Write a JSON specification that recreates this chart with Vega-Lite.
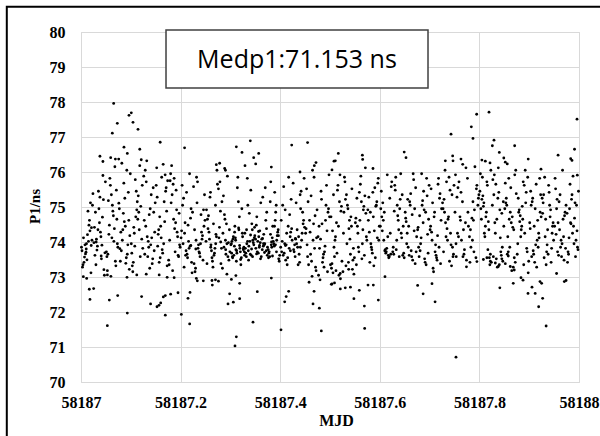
{
"$schema":"https://vega.github.io/schema/vega-lite/v6.json",
"width":498,"height":350,
"autosize":"none",
"padding":{"left":81,"top":32,"right":21,"bottom":54},
"background":"white",
"config":{"view":{"stroke":"#d9d9d9","strokeWidth":1}},
"data":{"values":[
{"mjd":58187.001,"p":73.85},{"mjd":58187.013,"p":74.21},{"mjd":58187.006,"p":73.42},{"mjd":58187.019,"p":75.12},{"mjd":58187.009,"p":73.66},{"mjd":58187.022,"p":74.05},{"mjd":58187.003,"p":73.28},{"mjd":58187.016,"p":74.48},{"mjd":58187.011,"p":73.95},{"mjd":58187.024,"p":75.38},{"mjd":58187.007,"p":73.57},{"mjd":58187.018,"p":74.32},{"mjd":58187.002,"p":73.75},{"mjd":58187.014,"p":74.88},{"mjd":58187.020,"p":73.12},{"mjd":58187.005,"p":74.12},{"mjd":58187.012,"p":73.49},{"mjd":58187.023,"p":75.05},{"mjd":58187.008,"p":73.92},{"mjd":58187.017,"p":74.62},{"mjd":58187.004,"p":73.35},{"mjd":58187.015,"p":74.02},{"mjd":58187.010,"p":73.71},{"mjd":58187.021,"p":74.41},
{"mjd":58187.037,"p":74.55},{"mjd":58187.028,"p":73.62},{"mjd":58187.045,"p":75.21},{"mjd":58187.033,"p":73.88},{"mjd":58187.040,"p":74.15},{"mjd":58187.049,"p":75.72},{"mjd":58187.030,"p":73.35},{"mjd":58187.043,"p":74.71},{"mjd":58187.026,"p":73.98},{"mjd":58187.035,"p":75.45},{"mjd":58187.047,"p":73.05},{"mjd":58187.039,"p":74.28},{"mjd":58187.032,"p":73.77},{"mjd":58187.044,"p":75.9},{"mjd":58187.027,"p":74.42},{"mjd":58187.041,"p":73.52},{"mjd":58187.036,"p":74.95},{"mjd":58187.048,"p":73.69},{"mjd":58187.031,"p":74.08},{"mjd":58187.038,"p":75.28},{"mjd":58187.046,"p":73.21},{"mjd":58187.029,"p":74.85},{"mjd":58187.042,"p":73.91},{"mjd":58187.034,"p":74.35},
{"mjd":58187.051,"p":73.72},{"mjd":58187.063,"p":75.05},{"mjd":58187.056,"p":74.22},{"mjd":58187.069,"p":73.45},{"mjd":58187.059,"p":75.62},{"mjd":58187.072,"p":74.65},{"mjd":58187.053,"p":73.18},{"mjd":58187.066,"p":74.02},{"mjd":58187.061,"p":75.35},{"mjd":58187.074,"p":73.85},{"mjd":58187.057,"p":74.48},{"mjd":58187.068,"p":76.15},{"mjd":58187.052,"p":73.58},{"mjd":58187.064,"p":74.88},{"mjd":58187.070,"p":73.32},{"mjd":58187.055,"p":75.18},{"mjd":58187.062,"p":74.12},{"mjd":58187.073,"p":73.95},{"mjd":58187.058,"p":75.82},{"mjd":58187.067,"p":74.38},{"mjd":58187.054,"p":73.65},{"mjd":58187.065,"p":74.75},{"mjd":58187.060,"p":73.02},{"mjd":58187.071,"p":75.48},
{"mjd":58187.087,"p":74.58},{"mjd":58187.078,"p":73.81},{"mjd":58187.095,"p":75.42},{"mjd":58187.083,"p":74.05},{"mjd":58187.090,"p":73.39},{"mjd":58187.099,"p":75.95},{"mjd":58187.080,"p":74.28},{"mjd":58187.093,"p":73.65},{"mjd":58187.076,"p":75.11},{"mjd":58187.085,"p":74.82},{"mjd":58187.097,"p":73.22},{"mjd":58187.089,"p":74.45},{"mjd":58187.082,"p":76.25},{"mjd":58187.094,"p":73.92},{"mjd":58187.077,"p":74.95},{"mjd":58187.091,"p":73.55},{"mjd":58187.086,"p":75.68},{"mjd":58187.098,"p":74.18},{"mjd":58187.081,"p":73.75},{"mjd":58187.088,"p":75.25},{"mjd":58187.096,"p":74.62},{"mjd":58187.079,"p":73.45},{"mjd":58187.092,"p":76.05},{"mjd":58187.084,"p":74.35},
{"mjd":58187.101,"p":73.95},{"mjd":58187.113,"p":75.15},{"mjd":58187.106,"p":74.42},{"mjd":58187.119,"p":73.58},{"mjd":58187.109,"p":75.78},{"mjd":58187.122,"p":74.08},{"mjd":58187.103,"p":73.32},{"mjd":58187.116,"p":74.85},{"mjd":58187.111,"p":75.45},{"mjd":58187.124,"p":73.82},{"mjd":58187.107,"p":74.25},{"mjd":58187.118,"p":76.18},{"mjd":58187.102,"p":73.68},{"mjd":58187.114,"p":74.65},{"mjd":58187.120,"p":75.02},{"mjd":58187.105,"p":73.42},{"mjd":58187.112,"p":74.92},{"mjd":58187.123,"p":75.62},{"mjd":58187.108,"p":73.88},{"mjd":58187.117,"p":74.35},{"mjd":58187.104,"p":73.15},{"mjd":58187.115,"p":75.32},{"mjd":58187.110,"p":74.72},{"mjd":58187.121,"p":76.35},
{"mjd":58187.137,"p":74.78},{"mjd":58187.128,"p":73.65},{"mjd":58187.145,"p":75.55},{"mjd":58187.133,"p":74.15},{"mjd":58187.140,"p":73.92},{"mjd":58187.149,"p":75.12},{"mjd":58187.130,"p":74.45},{"mjd":58187.143,"p":73.38},{"mjd":58187.126,"p":75.88},{"mjd":58187.135,"p":74.02},{"mjd":58187.147,"p":73.75},{"mjd":58187.139,"p":74.95},{"mjd":58187.132,"p":76.32},{"mjd":58187.144,"p":73.52},{"mjd":58187.127,"p":74.62},{"mjd":58187.141,"p":75.35},{"mjd":58187.136,"p":73.85},{"mjd":58187.148,"p":74.28},{"mjd":58187.131,"p":75.72},{"mjd":58187.138,"p":73.25},{"mjd":58187.146,"p":74.85},{"mjd":58187.129,"p":76.05},{"mjd":58187.142,"p":74.12},{"mjd":58187.134,"p":73.58},
{"mjd":58187.151,"p":75.62},{"mjd":58187.163,"p":73.78},{"mjd":58187.156,"p":74.35},{"mjd":58187.169,"p":75.92},{"mjd":58187.159,"p":73.55},{"mjd":58187.172,"p":74.88},{"mjd":58187.153,"p":75.28},{"mjd":58187.166,"p":73.95},{"mjd":58187.161,"p":74.12},{"mjd":58187.174,"p":75.75},{"mjd":58187.157,"p":73.42},{"mjd":58187.168,"p":74.58},{"mjd":58187.152,"p":76.12},{"mjd":58187.164,"p":73.68},{"mjd":58187.170,"p":75.45},{"mjd":58187.155,"p":74.22},{"mjd":58187.162,"p":75.85},{"mjd":58187.173,"p":73.32},{"mjd":58187.158,"p":74.72},{"mjd":58187.167,"p":75.15},{"mjd":58187.154,"p":73.88},{"mjd":58187.165,"p":76.22},{"mjd":58187.160,"p":74.45},{"mjd":58187.171,"p":75.55},
{"mjd":58187.187,"p":75.82},{"mjd":58187.178,"p":74.05},{"mjd":58187.195,"p":73.62},{"mjd":58187.183,"p":75.35},{"mjd":58187.190,"p":74.55},{"mjd":58187.199,"p":73.85},{"mjd":58187.180,"p":75.95},{"mjd":58187.193,"p":74.28},{"mjd":58187.176,"p":73.48},{"mjd":58187.185,"p":75.65},{"mjd":58187.197,"p":74.82},{"mjd":58187.189,"p":73.72},{"mjd":58187.182,"p":76.18},{"mjd":58187.194,"p":74.15},{"mjd":58187.177,"p":73.35},{"mjd":58187.191,"p":75.48},{"mjd":58187.186,"p":74.65},{"mjd":58187.198,"p":73.92},{"mjd":58187.181,"p":75.12},{"mjd":58187.188,"p":74.38},{"mjd":58187.196,"p":73.58},{"mjd":58187.179,"p":75.75},{"mjd":58187.192,"p":74.92},{"mjd":58187.184,"p":73.18},
{"mjd":58187.201,"p":74.12},{"mjd":58187.213,"p":73.65},{"mjd":58187.206,"p":75.25},{"mjd":58187.219,"p":73.88},{"mjd":58187.209,"p":74.55},{"mjd":58187.222,"p":73.42},{"mjd":58187.203,"p":75.62},{"mjd":58187.216,"p":74.02},{"mjd":58187.211,"p":73.75},{"mjd":58187.224,"p":74.85},{"mjd":58187.207,"p":73.28},{"mjd":58187.218,"p":75.95},{"mjd":58187.202,"p":74.32},{"mjd":58187.214,"p":73.55},{"mjd":58187.220,"p":74.68},{"mjd":58187.205,"p":73.95},{"mjd":58187.212,"p":75.42},{"mjd":58187.223,"p":73.12},{"mjd":58187.208,"p":74.25},{"mjd":58187.217,"p":73.82},{"mjd":58187.204,"p":75.05},{"mjd":58187.215,"p":74.48},{"mjd":58187.210,"p":73.62},{"mjd":58187.221,"p":74.95},
{"mjd":58187.237,"p":73.72},{"mjd":58187.228,"p":74.35},{"mjd":58187.245,"p":73.48},{"mjd":58187.233,"p":75.12},{"mjd":58187.240,"p":73.95},{"mjd":58187.249,"p":74.62},{"mjd":58187.230,"p":73.25},{"mjd":58187.243,"p":74.08},{"mjd":58187.226,"p":75.58},{"mjd":58187.235,"p":73.82},{"mjd":58187.247,"p":74.45},{"mjd":58187.239,"p":73.58},{"mjd":58187.232,"p":75.85},{"mjd":58187.244,"p":74.18},{"mjd":58187.227,"p":73.38},{"mjd":58187.241,"p":74.78},{"mjd":58187.236,"p":73.92},{"mjd":58187.248,"p":75.35},{"mjd":58187.231,"p":74.05},{"mjd":58187.238,"p":73.68},{"mjd":58187.246,"p":74.92},{"mjd":58187.229,"p":73.15},{"mjd":58187.242,"p":74.28},{"mjd":58187.234,"p":75.72},
{"mjd":58187.251,"p":74.02},{"mjd":58187.263,"p":73.55},{"mjd":58187.256,"p":74.75},{"mjd":58187.269,"p":73.82},{"mjd":58187.259,"p":75.28},{"mjd":58187.272,"p":74.15},{"mjd":58187.253,"p":73.38},{"mjd":58187.266,"p":74.52},{"mjd":58187.261,"p":73.92},{"mjd":58187.274,"p":75.65},{"mjd":58187.257,"p":74.28},{"mjd":58187.268,"p":73.68},{"mjd":58187.252,"p":74.92},{"mjd":58187.264,"p":73.45},{"mjd":58187.270,"p":75.05},{"mjd":58187.255,"p":74.38},{"mjd":58187.262,"p":73.75},{"mjd":58187.273,"p":76.05},{"mjd":58187.258,"p":74.08},{"mjd":58187.267,"p":73.62},{"mjd":58187.254,"p":74.65},{"mjd":58187.265,"p":73.28},{"mjd":58187.260,"p":75.42},{"mjd":58187.271,"p":74.22},
{"mjd":58187.287,"p":73.85},{"mjd":58187.278,"p":74.42},{"mjd":58187.295,"p":73.58},{"mjd":58187.283,"p":75.15},{"mjd":58187.290,"p":74.05},{"mjd":58187.299,"p":73.72},{"mjd":58187.280,"p":74.88},{"mjd":58187.293,"p":73.95},{"mjd":58187.276,"p":75.52},{"mjd":58187.285,"p":74.25},{"mjd":58187.297,"p":73.48},{"mjd":58187.289,"p":74.65},{"mjd":58187.282,"p":73.82},{"mjd":58187.294,"p":75.88},{"mjd":58187.277,"p":74.12},{"mjd":58187.291,"p":73.65},{"mjd":58187.286,"p":75.32},{"mjd":58187.298,"p":74.35},{"mjd":58187.281,"p":73.38},{"mjd":58187.288,"p":74.78},{"mjd":58187.296,"p":73.98},{"mjd":58187.279,"p":75.72},{"mjd":58187.292,"p":74.52},{"mjd":58187.284,"p":73.25},
{"mjd":58187.301,"p":73.92},{"mjd":58187.313,"p":73.68},{"mjd":58187.306,"p":74.15},{"mjd":58187.319,"p":73.82},{"mjd":58187.309,"p":74.45},{"mjd":58187.322,"p":73.55},{"mjd":58187.303,"p":74.02},{"mjd":58187.316,"p":75.15},{"mjd":58187.311,"p":73.78},{"mjd":58187.324,"p":74.25},{"mjd":58187.307,"p":73.62},{"mjd":58187.318,"p":74.72},{"mjd":58187.302,"p":73.95},{"mjd":58187.314,"p":75.55},{"mjd":58187.320,"p":73.72},{"mjd":58187.305,"p":74.08},{"mjd":58187.312,"p":73.45},{"mjd":58187.323,"p":74.95},{"mjd":58187.308,"p":73.88},{"mjd":58187.317,"p":74.35},{"mjd":58187.304,"p":73.58},{"mjd":58187.315,"p":75.85},{"mjd":58187.310,"p":74.12},{"mjd":58187.321,"p":73.35},
{"mjd":58187.337,"p":73.88},{"mjd":58187.328,"p":73.72},{"mjd":58187.345,"p":74.05},{"mjd":58187.333,"p":73.95},{"mjd":58187.340,"p":73.65},{"mjd":58187.349,"p":74.18},{"mjd":58187.330,"p":73.82},{"mjd":58187.343,"p":74.52},{"mjd":58187.326,"p":73.78},{"mjd":58187.335,"p":75.05},{"mjd":58187.347,"p":73.92},{"mjd":58187.339,"p":74.02},{"mjd":58187.332,"p":73.58},{"mjd":58187.344,"p":74.35},{"mjd":58187.327,"p":73.85},{"mjd":58187.341,"p":75.48},{"mjd":58187.336,"p":73.75},{"mjd":58187.348,"p":74.12},{"mjd":58187.331,"p":73.68},{"mjd":58187.338,"p":74.82},{"mjd":58187.346,"p":73.98},{"mjd":58187.329,"p":74.25},{"mjd":58187.342,"p":73.62},{"mjd":58187.334,"p":75.82},
{"mjd":58187.351,"p":73.82},{"mjd":58187.363,"p":74.08},{"mjd":58187.356,"p":73.68},{"mjd":58187.369,"p":73.95},{"mjd":58187.359,"p":74.32},{"mjd":58187.372,"p":73.75},{"mjd":58187.353,"p":74.72},{"mjd":58187.366,"p":73.88},{"mjd":58187.361,"p":75.12},{"mjd":58187.374,"p":73.62},{"mjd":58187.357,"p":74.15},{"mjd":58187.368,"p":73.92},{"mjd":58187.352,"p":74.48},{"mjd":58187.364,"p":73.78},{"mjd":58187.370,"p":75.55},{"mjd":58187.355,"p":74.02},{"mjd":58187.362,"p":73.58},{"mjd":58187.373,"p":74.85},{"mjd":58187.358,"p":73.85},{"mjd":58187.367,"p":74.22},{"mjd":58187.354,"p":73.72},{"mjd":58187.365,"p":75.28},{"mjd":58187.360,"p":73.98},{"mjd":58187.371,"p":74.62},
{"mjd":58187.387,"p":73.95},{"mjd":58187.378,"p":73.72},{"mjd":58187.395,"p":74.28},{"mjd":58187.383,"p":73.85},{"mjd":58187.390,"p":74.62},{"mjd":58187.399,"p":73.62},{"mjd":58187.380,"p":75.15},{"mjd":58187.393,"p":74.05},{"mjd":58187.376,"p":73.78},{"mjd":58187.385,"p":74.45},{"mjd":58187.397,"p":73.52},{"mjd":58187.389,"p":75.42},{"mjd":58187.382,"p":73.92},{"mjd":58187.394,"p":74.18},{"mjd":58187.377,"p":73.68},{"mjd":58187.391,"p":74.85},{"mjd":58187.386,"p":74.02},{"mjd":58187.398,"p":73.45},{"mjd":58187.381,"p":75.72},{"mjd":58187.388,"p":73.88},{"mjd":58187.396,"p":74.35},{"mjd":58187.379,"p":73.58},{"mjd":58187.392,"p":75.05},{"mjd":58187.384,"p":74.12},
{"mjd":58187.401,"p":73.85},{"mjd":58187.413,"p":74.25},{"mjd":58187.406,"p":73.62},{"mjd":58187.419,"p":74.78},{"mjd":58187.409,"p":73.95},{"mjd":58187.422,"p":75.22},{"mjd":58187.403,"p":73.72},{"mjd":58187.416,"p":74.45},{"mjd":58187.411,"p":73.48},{"mjd":58187.424,"p":74.05},{"mjd":58187.407,"p":75.58},{"mjd":58187.418,"p":73.82},{"mjd":58187.402,"p":74.62},{"mjd":58187.414,"p":73.35},{"mjd":58187.420,"p":74.15},{"mjd":58187.405,"p":75.05},{"mjd":58187.412,"p":73.92},{"mjd":58187.423,"p":74.38},{"mjd":58187.408,"p":73.68},{"mjd":58187.417,"p":75.85},{"mjd":58187.404,"p":74.02},{"mjd":58187.415,"p":73.55},{"mjd":58187.410,"p":74.92},{"mjd":58187.421,"p":74.28},
{"mjd":58187.437,"p":74.15},{"mjd":58187.428,"p":73.72},{"mjd":58187.445,"p":74.85},{"mjd":58187.433,"p":73.95},{"mjd":58187.440,"p":75.35},{"mjd":58187.449,"p":74.42},{"mjd":58187.430,"p":73.58},{"mjd":58187.443,"p":74.05},{"mjd":58187.426,"p":75.68},{"mjd":58187.435,"p":73.85},{"mjd":58187.447,"p":74.62},{"mjd":58187.439,"p":73.42},{"mjd":58187.432,"p":75.12},{"mjd":58187.444,"p":74.25},{"mjd":58187.427,"p":73.78},{"mjd":58187.441,"p":74.95},{"mjd":58187.436,"p":73.35},{"mjd":58187.448,"p":75.82},{"mjd":58187.431,"p":74.08},{"mjd":58187.438,"p":73.65},{"mjd":58187.446,"p":74.52},{"mjd":58187.429,"p":73.92},{"mjd":58187.442,"p":75.45},{"mjd":58187.434,"p":74.35},
{"mjd":58187.451,"p":74.25},{"mjd":58187.463,"p":73.45},{"mjd":58187.456,"p":75.15},{"mjd":58187.469,"p":73.82},{"mjd":58187.459,"p":74.62},{"mjd":58187.472,"p":73.18},{"mjd":58187.453,"p":75.52},{"mjd":58187.466,"p":74.05},{"mjd":58187.461,"p":73.65},{"mjd":58187.474,"p":74.92},{"mjd":58187.457,"p":73.35},{"mjd":58187.468,"p":75.85},{"mjd":58187.452,"p":74.38},{"mjd":58187.464,"p":73.02},{"mjd":58187.470,"p":74.75},{"mjd":58187.455,"p":73.58},{"mjd":58187.462,"p":75.32},{"mjd":58187.473,"p":74.12},{"mjd":58187.458,"p":72.85},{"mjd":58187.467,"p":74.52},{"mjd":58187.454,"p":73.92},{"mjd":58187.465,"p":76.05},{"mjd":58187.460,"p":74.28},{"mjd":58187.471,"p":73.28},
{"mjd":58187.487,"p":73.65},{"mjd":58187.478,"p":74.45},{"mjd":58187.495,"p":73.15},{"mjd":58187.483,"p":75.22},{"mjd":58187.490,"p":73.88},{"mjd":58187.499,"p":74.72},{"mjd":58187.480,"p":72.92},{"mjd":58187.493,"p":75.62},{"mjd":58187.476,"p":74.15},{"mjd":58187.485,"p":73.42},{"mjd":58187.497,"p":74.95},{"mjd":58187.489,"p":73.72},{"mjd":58187.482,"p":75.45},{"mjd":58187.494,"p":74.32},{"mjd":58187.477,"p":73.05},{"mjd":58187.491,"p":74.62},{"mjd":58187.486,"p":73.55},{"mjd":58187.498,"p":75.92},{"mjd":58187.481,"p":74.08},{"mjd":58187.488,"p":73.28},{"mjd":58187.496,"p":74.85},{"mjd":58187.479,"p":73.82},{"mjd":58187.492,"p":75.05},{"mjd":58187.484,"p":74.52},
{"mjd":58187.501,"p":73.35},{"mjd":58187.513,"p":74.55},{"mjd":58187.506,"p":73.12},{"mjd":58187.519,"p":75.15},{"mjd":58187.509,"p":73.58},{"mjd":58187.522,"p":74.88},{"mjd":58187.503,"p":73.25},{"mjd":58187.516,"p":75.62},{"mjd":58187.511,"p":74.15},{"mjd":58187.524,"p":73.45},{"mjd":58187.507,"p":75.35},{"mjd":58187.518,"p":73.05},{"mjd":58187.502,"p":74.72},{"mjd":58187.514,"p":73.68},{"mjd":58187.520,"p":75.92},{"mjd":58187.505,"p":74.32},{"mjd":58187.512,"p":73.18},{"mjd":58187.523,"p":75.02},{"mjd":58187.508,"p":73.85},{"mjd":58187.517,"p":74.45},{"mjd":58187.504,"p":73.38},{"mjd":58187.515,"p":75.48},{"mjd":58187.510,"p":74.05},{"mjd":58187.521,"p":72.95},
{"mjd":58187.537,"p":73.42},{"mjd":58187.528,"p":74.85},{"mjd":58187.545,"p":73.22},{"mjd":58187.533,"p":75.35},{"mjd":58187.540,"p":74.08},{"mjd":58187.549,"p":73.55},{"mjd":58187.530,"p":75.72},{"mjd":58187.543,"p":74.45},{"mjd":58187.526,"p":73.15},{"mjd":58187.535,"p":75.05},{"mjd":58187.547,"p":73.82},{"mjd":58187.539,"p":74.62},{"mjd":58187.532,"p":73.32},{"mjd":58187.544,"p":75.52},{"mjd":58187.527,"p":74.25},{"mjd":58187.541,"p":73.65},{"mjd":58187.536,"p":74.95},{"mjd":58187.548,"p":73.08},{"mjd":58187.531,"p":75.22},{"mjd":58187.538,"p":74.38},{"mjd":58187.546,"p":73.48},{"mjd":58187.529,"p":75.85},{"mjd":58187.542,"p":74.72},{"mjd":58187.534,"p":73.95},
{"mjd":58187.551,"p":74.55},{"mjd":58187.563,"p":75.15},{"mjd":58187.556,"p":74.25},{"mjd":58187.569,"p":73.62},{"mjd":58187.559,"p":75.42},{"mjd":58187.572,"p":74.82},{"mjd":58187.553,"p":73.35},{"mjd":58187.566,"p":74.35},{"mjd":58187.561,"p":75.65},{"mjd":58187.574,"p":74.05},{"mjd":58187.557,"p":73.85},{"mjd":58187.568,"p":75.02},{"mjd":58187.552,"p":74.68},{"mjd":58187.564,"p":73.52},{"mjd":58187.570,"p":75.32},{"mjd":58187.555,"p":74.45},{"mjd":58187.562,"p":75.88},{"mjd":58187.573,"p":74.15},{"mjd":58187.558,"p":73.72},{"mjd":58187.567,"p":74.92},{"mjd":58187.554,"p":75.25},{"mjd":58187.565,"p":73.95},{"mjd":58187.560,"p":74.62},{"mjd":58187.571,"p":76.12},
{"mjd":58187.587,"p":74.72},{"mjd":58187.578,"p":75.28},{"mjd":58187.595,"p":74.12},{"mjd":58187.583,"p":73.85},{"mjd":58187.590,"p":75.55},{"mjd":58187.599,"p":74.45},{"mjd":58187.580,"p":73.42},{"mjd":58187.593,"p":75.05},{"mjd":58187.576,"p":74.92},{"mjd":58187.585,"p":73.68},{"mjd":58187.597,"p":75.82},{"mjd":58187.589,"p":74.32},{"mjd":58187.582,"p":73.95},{"mjd":58187.594,"p":75.15},{"mjd":58187.577,"p":74.62},{"mjd":58187.591,"p":73.55},{"mjd":58187.586,"p":75.42},{"mjd":58187.598,"p":74.05},{"mjd":58187.581,"p":74.85},{"mjd":58187.588,"p":73.32},{"mjd":58187.596,"p":75.68},{"mjd":58187.579,"p":74.28},{"mjd":58187.592,"p":75.02},{"mjd":58187.584,"p":73.78},
{"mjd":58187.601,"p":74.45},{"mjd":58187.613,"p":73.72},{"mjd":58187.606,"p":75.12},{"mjd":58187.619,"p":73.58},{"mjd":58187.609,"p":74.85},{"mjd":58187.622,"p":73.65},{"mjd":58187.603,"p":75.45},{"mjd":58187.616,"p":74.15},{"mjd":58187.611,"p":73.78},{"mjd":58187.624,"p":75.72},{"mjd":58187.607,"p":74.62},{"mjd":58187.618,"p":73.55},{"mjd":58187.602,"p":74.95},{"mjd":58187.614,"p":73.82},{"mjd":58187.620,"p":75.25},{"mjd":58187.605,"p":74.32},{"mjd":58187.612,"p":73.68},{"mjd":58187.623,"p":75.58},{"mjd":58187.608,"p":74.05},{"mjd":58187.617,"p":73.62},{"mjd":58187.604,"p":74.72},{"mjd":58187.615,"p":75.92},{"mjd":58187.610,"p":73.75},{"mjd":58187.621,"p":74.25},
{"mjd":58187.637,"p":74.62},{"mjd":58187.628,"p":73.65},{"mjd":58187.645,"p":75.35},{"mjd":58187.633,"p":73.78},{"mjd":58187.640,"p":74.95},{"mjd":58187.649,"p":73.55},{"mjd":58187.630,"p":75.62},{"mjd":58187.643,"p":74.25},{"mjd":58187.626,"p":73.72},{"mjd":58187.635,"p":75.05},{"mjd":58187.647,"p":74.45},{"mjd":58187.639,"p":73.58},{"mjd":58187.632,"p":75.85},{"mjd":58187.644,"p":74.12},{"mjd":58187.627,"p":73.85},{"mjd":58187.641,"p":75.22},{"mjd":58187.636,"p":74.75},{"mjd":58187.648,"p":73.68},{"mjd":58187.631,"p":75.48},{"mjd":58187.638,"p":74.35},{"mjd":58187.646,"p":73.62},{"mjd":58187.629,"p":74.88},{"mjd":58187.642,"p":75.95},{"mjd":58187.634,"p":74.05},
{"mjd":58187.651,"p":74.85},{"mjd":58187.663,"p":73.75},{"mjd":58187.656,"p":75.22},{"mjd":58187.669,"p":74.32},{"mjd":58187.659,"p":73.62},{"mjd":58187.672,"p":75.55},{"mjd":58187.653,"p":74.58},{"mjd":58187.666,"p":73.48},{"mjd":58187.661,"p":75.05},{"mjd":58187.674,"p":74.15},{"mjd":58187.657,"p":73.85},{"mjd":58187.668,"p":75.78},{"mjd":58187.652,"p":74.68},{"mjd":58187.664,"p":73.58},{"mjd":58187.670,"p":74.95},{"mjd":58187.655,"p":74.25},{"mjd":58187.662,"p":75.38},{"mjd":58187.673,"p":73.72},{"mjd":58187.658,"p":74.45},{"mjd":58187.667,"p":75.95},{"mjd":58187.654,"p":73.95},{"mjd":58187.665,"p":74.78},{"mjd":58187.660,"p":75.15},{"mjd":58187.671,"p":73.38},
{"mjd":58187.687,"p":74.55},{"mjd":58187.678,"p":73.85},{"mjd":58187.695,"p":75.32},{"mjd":58187.683,"p":74.12},{"mjd":58187.690,"p":73.52},{"mjd":58187.699,"p":75.62},{"mjd":58187.680,"p":74.75},{"mjd":58187.693,"p":73.35},{"mjd":58187.676,"p":74.35},{"mjd":58187.685,"p":75.05},{"mjd":58187.697,"p":73.68},{"mjd":58187.689,"p":74.92},{"mjd":58187.682,"p":73.95},{"mjd":58187.694,"p":75.82},{"mjd":58187.677,"p":74.42},{"mjd":58187.691,"p":73.42},{"mjd":58187.686,"p":75.18},{"mjd":58187.698,"p":74.65},{"mjd":58187.681,"p":73.75},{"mjd":58187.688,"p":75.45},{"mjd":58187.696,"p":74.22},{"mjd":58187.679,"p":73.58},{"mjd":58187.692,"p":74.85},{"mjd":58187.684,"p":75.95},
{"mjd":58187.701,"p":74.35},{"mjd":58187.713,"p":73.62},{"mjd":58187.706,"p":75.12},{"mjd":58187.719,"p":73.85},{"mjd":58187.709,"p":74.72},{"mjd":58187.722,"p":73.38},{"mjd":58187.703,"p":75.52},{"mjd":58187.716,"p":74.18},{"mjd":58187.711,"p":73.72},{"mjd":58187.724,"p":74.95},{"mjd":58187.707,"p":73.25},{"mjd":58187.718,"p":75.82},{"mjd":58187.702,"p":74.45},{"mjd":58187.714,"p":73.55},{"mjd":58187.720,"p":75.25},{"mjd":58187.705,"p":74.05},{"mjd":58187.712,"p":73.92},{"mjd":58187.723,"p":74.62},{"mjd":58187.708,"p":73.15},{"mjd":58187.717,"p":75.65},{"mjd":58187.704,"p":74.28},{"mjd":58187.715,"p":73.48},{"mjd":58187.710,"p":74.85},{"mjd":58187.721,"p":75.38},
{"mjd":58187.737,"p":74.65},{"mjd":58187.728,"p":73.72},{"mjd":58187.745,"p":75.35},{"mjd":58187.733,"p":74.15},{"mjd":58187.740,"p":73.45},{"mjd":58187.749,"p":75.62},{"mjd":58187.730,"p":74.85},{"mjd":58187.743,"p":73.92},{"mjd":58187.726,"p":75.12},{"mjd":58187.735,"p":74.38},{"mjd":58187.747,"p":73.58},{"mjd":58187.739,"p":75.85},{"mjd":58187.732,"p":74.55},{"mjd":58187.744,"p":73.32},{"mjd":58187.727,"p":74.95},{"mjd":58187.741,"p":75.48},{"mjd":58187.736,"p":74.05},{"mjd":58187.748,"p":73.65},{"mjd":58187.731,"p":76.05},{"mjd":58187.738,"p":74.72},{"mjd":58187.746,"p":73.85},{"mjd":58187.729,"p":75.22},{"mjd":58187.742,"p":74.25},{"mjd":58187.734,"p":75.72},
{"mjd":58187.751,"p":74.85},{"mjd":58187.763,"p":75.42},{"mjd":58187.756,"p":74.25},{"mjd":58187.769,"p":73.65},{"mjd":58187.759,"p":75.72},{"mjd":58187.772,"p":74.55},{"mjd":58187.753,"p":73.95},{"mjd":58187.766,"p":75.15},{"mjd":58187.761,"p":74.72},{"mjd":58187.774,"p":73.48},{"mjd":58187.757,"p":75.55},{"mjd":58187.768,"p":74.35},{"mjd":58187.752,"p":75.92},{"mjd":58187.764,"p":74.05},{"mjd":58187.770,"p":73.78},{"mjd":58187.755,"p":75.28},{"mjd":58187.762,"p":74.62},{"mjd":58187.773,"p":76.12},{"mjd":58187.758,"p":74.15},{"mjd":58187.767,"p":73.58},
{"mjd":58187.787,"p":75.15},{"mjd":58187.778,"p":74.45},{"mjd":58187.795,"p":75.62},{"mjd":58187.783,"p":73.85},{"mjd":58187.790,"p":74.92},{"mjd":58187.799,"p":75.35},{"mjd":58187.780,"p":74.15},{"mjd":58187.793,"p":73.55},{"mjd":58187.776,"p":75.82},{"mjd":58187.785,"p":74.68},{"mjd":58187.797,"p":75.05},{"mjd":58187.789,"p":73.72},{"mjd":58187.782,"p":74.35},{"mjd":58187.794,"p":75.52},{"mjd":58187.777,"p":74.85},{"mjd":58187.791,"p":76.15},{"mjd":58187.786,"p":74.05},{"mjd":58187.798,"p":75.25},{"mjd":58187.781,"p":73.42},{"mjd":58187.788,"p":74.62},
{"mjd":58187.801,"p":75.45},{"mjd":58187.813,"p":74.72},{"mjd":58187.806,"p":75.85},{"mjd":58187.819,"p":74.35},{"mjd":58187.809,"p":75.12},{"mjd":58187.822,"p":73.65},{"mjd":58187.803,"p":74.95},{"mjd":58187.816,"p":75.62},{"mjd":58187.811,"p":74.15},{"mjd":58187.824,"p":73.42},{"mjd":58187.807,"p":75.32},{"mjd":58187.818,"p":74.58},{"mjd":58187.802,"p":75.95},{"mjd":58187.814,"p":74.85},{"mjd":58187.820,"p":73.55},{"mjd":58187.805,"p":75.22},{"mjd":58187.812,"p":74.45},{"mjd":58187.823,"p":76.05},{"mjd":58187.808,"p":75.02},{"mjd":58187.817,"p":73.78},{"mjd":58187.804,"p":74.65},{"mjd":58187.815,"p":75.72},{"mjd":58187.810,"p":74.25},{"mjd":58187.821,"p":73.35},
{"mjd":58187.837,"p":75.25},{"mjd":58187.828,"p":73.58},{"mjd":58187.845,"p":74.82},{"mjd":58187.833,"p":75.65},{"mjd":58187.840,"p":73.35},{"mjd":58187.849,"p":74.45},{"mjd":58187.830,"p":75.92},{"mjd":58187.843,"p":73.72},{"mjd":58187.826,"p":75.05},{"mjd":58187.835,"p":74.65},{"mjd":58187.847,"p":73.45},{"mjd":58187.839,"p":75.42},{"mjd":58187.832,"p":74.25},{"mjd":58187.844,"p":73.62},{"mjd":58187.827,"p":75.78},{"mjd":58187.841,"p":74.92},{"mjd":58187.836,"p":73.28},{"mjd":58187.848,"p":75.15},{"mjd":58187.831,"p":74.55},{"mjd":58187.838,"p":76.12},{"mjd":58187.846,"p":73.85},{"mjd":58187.829,"p":75.35},{"mjd":58187.842,"p":74.12},{"mjd":58187.834,"p":73.52},
{"mjd":58187.851,"p":74.95},{"mjd":58187.863,"p":75.55},{"mjd":58187.856,"p":73.65},{"mjd":58187.869,"p":74.35},{"mjd":58187.859,"p":75.82},{"mjd":58187.872,"p":73.42},{"mjd":58187.853,"p":75.12},{"mjd":58187.866,"p":74.72},{"mjd":58187.861,"p":73.85},{"mjd":58187.874,"p":75.38},{"mjd":58187.857,"p":74.15},{"mjd":58187.868,"p":73.28},{"mjd":58187.852,"p":75.68},{"mjd":58187.864,"p":74.55},{"mjd":58187.870,"p":73.55},{"mjd":58187.855,"p":75.05},{"mjd":58187.862,"p":74.85},{"mjd":58187.873,"p":76.05},{"mjd":58187.858,"p":73.72},{"mjd":58187.867,"p":74.42},{"mjd":58187.854,"p":75.25},{"mjd":58187.865,"p":73.18},{"mjd":58187.860,"p":74.65},{"mjd":58187.871,"p":75.92},
{"mjd":58187.887,"p":74.65},{"mjd":58187.878,"p":75.25},{"mjd":58187.895,"p":73.82},{"mjd":58187.883,"p":74.15},{"mjd":58187.890,"p":75.62},{"mjd":58187.899,"p":73.45},{"mjd":58187.880,"p":74.92},{"mjd":58187.893,"p":75.12},{"mjd":58187.876,"p":73.65},{"mjd":58187.885,"p":74.45},{"mjd":58187.897,"p":75.85},{"mjd":58187.889,"p":73.35},{"mjd":58187.882,"p":74.75},{"mjd":58187.894,"p":75.42},{"mjd":58187.877,"p":73.95},{"mjd":58187.891,"p":74.25},{"mjd":58187.886,"p":75.02},{"mjd":58187.898,"p":73.12},{"mjd":58187.881,"p":74.58},{"mjd":58187.888,"p":75.72},{"mjd":58187.896,"p":73.72},{"mjd":58187.879,"p":74.85},{"mjd":58187.892,"p":76.05},{"mjd":58187.884,"p":74.35},
{"mjd":58187.901,"p":74.55},{"mjd":58187.913,"p":73.92},{"mjd":58187.906,"p":75.15},{"mjd":58187.919,"p":74.25},{"mjd":58187.909,"p":73.65},{"mjd":58187.922,"p":74.85},{"mjd":58187.903,"p":75.45},{"mjd":58187.916,"p":74.05},{"mjd":58187.911,"p":73.42},{"mjd":58187.924,"p":74.72},{"mjd":58187.907,"p":75.25},{"mjd":58187.918,"p":73.85},{"mjd":58187.902,"p":74.38},{"mjd":58187.914,"p":75.65},{"mjd":58187.920,"p":74.12},{"mjd":58187.905,"p":73.58},{"mjd":58187.912,"p":74.95},{"mjd":58187.923,"p":75.35},{"mjd":58187.908,"p":73.75},{"mjd":58187.917,"p":74.62},{"mjd":58187.904,"p":75.05},{"mjd":58187.915,"p":73.28},{"mjd":58187.910,"p":74.45},{"mjd":58187.921,"p":75.82},
{"mjd":58187.937,"p":74.35},{"mjd":58187.928,"p":75.12},{"mjd":58187.945,"p":73.82},{"mjd":58187.933,"p":74.65},{"mjd":58187.940,"p":75.42},{"mjd":58187.949,"p":74.05},{"mjd":58187.930,"p":73.55},{"mjd":58187.943,"p":74.92},{"mjd":58187.926,"p":75.25},{"mjd":58187.935,"p":73.72},{"mjd":58187.947,"p":74.45},{"mjd":58187.939,"p":75.62},{"mjd":58187.932,"p":74.15},{"mjd":58187.944,"p":73.42},{"mjd":58187.927,"p":74.82},{"mjd":58187.941,"p":75.05},{"mjd":58187.936,"p":73.92},{"mjd":58187.948,"p":74.55},{"mjd":58187.931,"p":75.85},{"mjd":58187.938,"p":73.65},{"mjd":58187.946,"p":74.25},{"mjd":58187.929,"p":75.35},{"mjd":58187.942,"p":74.72},{"mjd":58187.934,"p":73.35},
{"mjd":58187.951,"p":74.45},{"mjd":58187.963,"p":73.85},{"mjd":58187.956,"p":75.22},{"mjd":58187.969,"p":74.15},{"mjd":58187.959,"p":73.62},{"mjd":58187.972,"p":74.85},{"mjd":58187.953,"p":75.52},{"mjd":58187.966,"p":73.95},{"mjd":58187.961,"p":74.35},{"mjd":58187.974,"p":75.05},{"mjd":58187.957,"p":73.72},{"mjd":58187.968,"p":74.65},{"mjd":58187.952,"p":75.82},{"mjd":58187.964,"p":74.05},{"mjd":58187.970,"p":73.48},{"mjd":58187.955,"p":74.95},{"mjd":58187.962,"p":75.35},{"mjd":58187.973,"p":73.82},{"mjd":58187.958,"p":74.55},{"mjd":58187.967,"p":76.05},{"mjd":58187.954,"p":74.22},{"mjd":58187.965,"p":73.58},{"mjd":58187.960,"p":75.15},{"mjd":58187.971,"p":74.75},
{"mjd":58187.987,"p":74.25},{"mjd":58187.978,"p":73.72},{"mjd":58187.995,"p":75.05},{"mjd":58187.983,"p":74.55},{"mjd":58187.990,"p":73.95},{"mjd":58187.999,"p":75.45},{"mjd":58187.980,"p":74.12},{"mjd":58187.993,"p":73.58},{"mjd":58187.976,"p":74.82},{"mjd":58187.985,"p":75.22},{"mjd":58187.997,"p":73.85},{"mjd":58187.989,"p":74.45},{"mjd":58187.982,"p":75.65},{"mjd":58187.994,"p":74.05},{"mjd":58187.977,"p":73.42},{"mjd":58187.991,"p":74.68},{"mjd":58187.986,"p":75.35},{"mjd":58187.998,"p":73.78},{"mjd":58187.981,"p":74.95},{"mjd":58187.988,"p":75.88},{"mjd":58187.996,"p":74.32},{"mjd":58187.979,"p":73.65},{"mjd":58187.992,"p":75.12},{"mjd":58187.984,"p":74.52},
{"mjd":58187.3045,"p":73.55},{"mjd":58187.3085,"p":74.28},{"mjd":58187.3125,"p":73.75},{"mjd":58187.3165,"p":74.4},{"mjd":58187.3205,"p":73.5},{"mjd":58187.3245,"p":74.15},{"mjd":58187.3285,"p":73.62},{"mjd":58187.3325,"p":74.35},{"mjd":58187.3365,"p":73.48},{"mjd":58187.3405,"p":74.2},{"mjd":58187.3445,"p":73.58},{"mjd":58187.3485,"p":74.42},{"mjd":58187.3525,"p":73.66},{"mjd":58187.3565,"p":74.3},{"mjd":58187.3605,"p":73.52},{"mjd":58187.3645,"p":74.1},{"mjd":58187.3685,"p":73.7},{"mjd":58187.3725,"p":74.38},{"mjd":58187.3765,"p":73.55},{"mjd":58187.3805,"p":74.22},{"mjd":58187.3845,"p":73.6},{"mjd":58187.3885,"p":74.45},{"mjd":58187.3925,"p":73.72},{"mjd":58187.3965,"p":74.18},{"mjd":58187.3025,"p":73.68},{"mjd":58187.3105,"p":74.05},{"mjd":58187.3185,"p":73.9},{"mjd":58187.3265,"p":73.82},{"mjd":58187.3345,"p":74.02},{"mjd":58187.3425,"p":73.8},{"mjd":58187.3505,"p":74.08},{"mjd":58187.3585,"p":73.9},{"mjd":58187.3665,"p":73.95},{"mjd":58187.3745,"p":73.85},{"mjd":58187.3825,"p":74.0},{"mjd":58187.3905,"p":73.92},{"mjd":58187.2605,"p":73.85},{"mjd":58187.2705,"p":73.95},{"mjd":58187.2805,"p":74.0},{"mjd":58187.2905,"p":73.78},{"mjd":58187.2205,"p":73.9},{"mjd":58187.2305,"p":73.8},{"mjd":58187.4105,"p":73.9},{"mjd":58187.4205,"p":73.75},{"mjd":58187.4305,"p":74.1},{"mjd":58187.4405,"p":73.85},{"mjd":58187.0105,"p":73.8},{"mjd":58187.0205,"p":73.9},{"mjd":58187.0305,"p":74.0},{"mjd":58187.0405,"p":73.6},
{"mjd":58187.0656,"p":77.96},{"mjd":58187.0964,"p":77.62},{"mjd":58187.101,"p":77.69},{"mjd":58187.1044,"p":77.42},{"mjd":58187.0729,"p":77.39},{"mjd":58187.1145,"p":77.22},{"mjd":58187.0629,"p":77.11},{"mjd":58187.159,"p":76.85},{"mjd":58187.0863,"p":76.71},{"mjd":58187.118,"p":76.65},{"mjd":58187.208,"p":76.69},{"mjd":58187.093,"p":76.53},{"mjd":58187.038,"p":76.45},{"mjd":58187.0596,"p":76.41},{"mjd":58187.069,"p":76.37},{"mjd":58187.0757,"p":76.37},{"mjd":58187.044,"p":76.3},{"mjd":58187.34,"p":76.89},{"mjd":58187.3119,"p":76.72},{"mjd":58187.3233,"p":76.56},{"mjd":58187.3568,"p":76.53},{"mjd":58187.3468,"p":76.41},{"mjd":58187.3293,"p":76.18},{"mjd":58187.3508,"p":76.23},{"mjd":58187.4231,"p":76.77},{"mjd":58187.455,"p":76.84},{"mjd":58187.3822,"p":76.14},{"mjd":58187.2717,"p":76.21},{"mjd":58187.2784,"p":76.25},{"mjd":58187.2885,"p":76.1},{"mjd":58187.29,"p":76.05},{"mjd":58187.4685,"p":76.18},{"mjd":58187.4719,"p":76.27},{"mjd":58187.4398,"p":76.0},{"mjd":58187.5167,"p":76.53},{"mjd":58187.508,"p":76.31},{"mjd":58187.5107,"p":76.32},{"mjd":58187.565,"p":76.48},{"mjd":58187.5656,"p":76.36},{"mjd":58187.649,"p":76.57},{"mjd":58187.6526,"p":76.41},{"mjd":58187.743,"p":77.08},{"mjd":58187.7316,"p":76.32},{"mjd":58187.7463,"p":76.46},{"mjd":58187.747,"p":76.32},{"mjd":58187.504,"p":76.06},{"mjd":58187.5863,"p":76.1},{"mjd":58187.7945,"p":77.65},{"mjd":58187.8193,"p":77.71},{"mjd":58187.7838,"p":77.29},{"mjd":58187.7871,"p":76.96},{"mjd":58187.996,"p":77.51},{"mjd":58187.8293,"p":76.91},{"mjd":58187.826,"p":76.75},{"mjd":58187.8708,"p":76.75},{"mjd":58187.84,"p":76.56},{"mjd":58187.849,"p":76.4},{"mjd":58187.852,"p":76.28},{"mjd":58187.856,"p":76.23},{"mjd":58187.898,"p":76.37},{"mjd":58187.958,"p":76.48},{"mjd":58187.9833,"p":76.38},{"mjd":58187.9859,"p":76.33},{"mjd":58187.991,"p":76.65},{"mjd":58187.805,"p":76.34},{"mjd":58187.8119,"p":76.31},{"mjd":58187.8213,"p":76.26},{"mjd":58187.763,"p":76.37},{"mjd":58187.7665,"p":76.22},{"mjd":58187.9237,"p":76.08},{"mjd":58187.9966,"p":75.91},
{"mjd":58187.0254,"p":72.67},{"mjd":58187.018,"p":72.36},{"mjd":58187.0569,"p":72.34},{"mjd":58187.0737,"p":72.47},{"mjd":58187.093,"p":71.97},{"mjd":58187.0529,"p":71.61},{"mjd":58187.1217,"p":72.44},{"mjd":58187.1397,"p":72.23},{"mjd":58187.1526,"p":72.15},{"mjd":58187.1566,"p":72.19},{"mjd":58187.16,"p":72.26},{"mjd":58187.1653,"p":72.43},{"mjd":58187.1693,"p":72.47},{"mjd":58187.18,"p":72.51},{"mjd":58187.1948,"p":72.55},{"mjd":58187.1693,"p":71.91},{"mjd":58187.2015,"p":71.93},{"mjd":58187.2189,"p":72.56},{"mjd":58187.2149,"p":72.39},{"mjd":58187.2182,"p":71.66},{"mjd":58187.2336,"p":72.89},{"mjd":58187.2456,"p":72.89},{"mjd":58187.0114,"p":72.96},{"mjd":58187.0924,"p":72.99},{"mjd":58187.0167,"p":72.65},{"mjd":58187.2637,"p":72.77},{"mjd":58187.2985,"p":72.52},{"mjd":58187.3186,"p":72.38},{"mjd":58187.2952,"p":72.23},{"mjd":58187.3059,"p":72.28},{"mjd":58187.3454,"p":71.71},{"mjd":58187.3119,"p":71.29},{"mjd":58187.3092,"p":71.03},{"mjd":58187.4016,"p":71.49},{"mjd":58187.4826,"p":71.46},{"mjd":58187.354,"p":72.58},{"mjd":58187.3822,"p":72.97},{"mjd":58187.417,"p":72.59},{"mjd":58187.412,"p":72.44},{"mjd":58187.409,"p":72.29},{"mjd":58187.468,"p":72.59},{"mjd":58187.4659,"p":72.23},{"mjd":58187.4786,"p":72.11},{"mjd":58187.5027,"p":72.79},{"mjd":58187.263,"p":72.9},{"mjd":58187.27,"p":72.92},{"mjd":58187.276,"p":72.88},{"mjd":58187.293,"p":73.08},{"mjd":58187.311,"p":73.04},{"mjd":58187.302,"p":72.93},{"mjd":58187.3186,"p":72.82},{"mjd":58187.5696,"p":71.53},{"mjd":58187.569,"p":72.17},{"mjd":58187.548,"p":72.38},{"mjd":58187.597,"p":72.34},{"mjd":58187.5207,"p":72.66},{"mjd":58187.5307,"p":72.69},{"mjd":58187.541,"p":72.71},{"mjd":58187.504,"p":72.8},{"mjd":58187.509,"p":72.83},{"mjd":58187.5589,"p":72.62},{"mjd":58187.5763,"p":72.77},{"mjd":58187.587,"p":72.77},{"mjd":58187.676,"p":72.76},{"mjd":58187.687,"p":72.52},{"mjd":58187.711,"p":72.29},{"mjd":58187.7048,"p":72.81},{"mjd":58187.6104,"p":73.01},{"mjd":58187.753,"p":70.71},{"mjd":58187.841,"p":72.69},{"mjd":58187.8976,"p":72.53},{"mjd":58187.912,"p":72.53},{"mjd":58187.919,"p":72.15},{"mjd":58187.934,"p":71.6},{"mjd":58187.927,"p":72.39},{"mjd":58187.9056,"p":72.71},{"mjd":58187.9217,"p":72.87},{"mjd":58187.925,"p":72.82},{"mjd":58187.9705,"p":72.87},{"mjd":58187.974,"p":72.9},{"mjd":58187.868,"p":72.82},{"mjd":58187.8835,"p":72.98},{"mjd":58187.8876,"p":72.91},{"mjd":58187.87,"p":73.2},{"mjd":58187.955,"p":73.1},{"mjd":58187.774,"p":73.29},{"mjd":58187.7535,"p":73.58},{"mjd":58187.795,"p":73.44},
{"mjd":58187.5205,"p":73.1},{"mjd":58187.5375,"p":73.22},{"mjd":58187.0047,"p":73.01},{"mjd":58187.053,"p":73.06},{"mjd":58187.112,"p":73.06},{"mjd":58187.131,"p":73.08},{"mjd":58187.157,"p":73.06},{"mjd":58187.173,"p":72.99},{"mjd":58187.187,"p":72.98},{"mjd":58187.2316,"p":72.96},{"mjd":58187.808,"p":73.5},{"mjd":58187.815,"p":73.55},{"mjd":58187.822,"p":73.45},{"mjd":58187.832,"p":73.4},{"mjd":58187.838,"p":73.3},{"mjd":58187.845,"p":73.52},{"mjd":58187.852,"p":73.38},{"mjd":58187.858,"p":73.6},{"mjd":58187.862,"p":73.3}
]},
"encoding":{
"x":{"field":"mjd","type":"quantitative","title":"MJD",
"scale":{"domain":[58187,58188],"nice":false,"zero":false},
"axis":{"values":[58187,58187.2,58187.4,58187.6,58187.8,58188],"format":".1~f","grid":true,"gridColor":"#d9d9d9","gridWidth":1,"domain":false,"ticks":false,"labelFont":"Liberation Serif","labelFontWeight":"bold","labelFontSize":16,"labelColor":"black","labelPadding":12,"labelFlush":false,"labelOverlap":false,"titleFont":"Liberation Serif","titleFontWeight":"bold","titleFontSize":16,"titleColor":"black","titleX":255,"titleY":43,"titleBaseline":"alphabetic","titleAlign":"center"}},
"y":{"field":"p","type":"quantitative","title":"P1/ns",
"scale":{"domain":[70,80],"nice":false,"zero":false},
"axis":{"values":[70,71,72,73,74,75,76,77,78,79,80],"format":"d","grid":true,"gridColor":"#d9d9d9","gridWidth":1,"domain":false,"ticks":false,"labelFont":"Liberation Serif","labelFontWeight":"bold","labelFontSize":16,"labelColor":"black","labelPadding":16,"labelFlush":false,"labelOverlap":false,"titleFont":"Liberation Serif","titleFontWeight":"bold","titleFontSize":15,"titleColor":"black","titleX":-42,"titleY":174,"titleBaseline":"alphabetic","titleAlign":"center","titleAngle":-90}}
},
"layer":[
{"mark":{"type":"circle","size":8,"color":"black","opacity":1}},
{"data":{"values":[{"mjd":58186.851,"mjd2":58188.6,"p":80.72,"p2":64}]},
 "mark":{"type":"rect","fill":"white","fillOpacity":0,"stroke":"black","strokeWidth":2,"clip":false},
 "encoding":{"x2":{"field":"mjd2"},"y2":{"field":"p2"}}},
{"data":{"values":[{"mjd":58187.1707,"mjd2":58187.6968,"p":80.057,"p2":78.4}]},
 "mark":{"type":"rect","fill":"white","stroke":"#404040","strokeWidth":1.5,"clip":false},
 "encoding":{"x2":{"field":"mjd2"},"y2":{"field":"p2"}}},
{"data":{"values":[{"mjd":58187.4337,"p":79.2,"label":"Medp1:71.153 ns"}]},
 "mark":{"type":"text","font":"Open Sans","fontSize":25,"align":"center","baseline":"middle","color":"black"},
 "encoding":{"text":{"field":"label"}}}
]
}
